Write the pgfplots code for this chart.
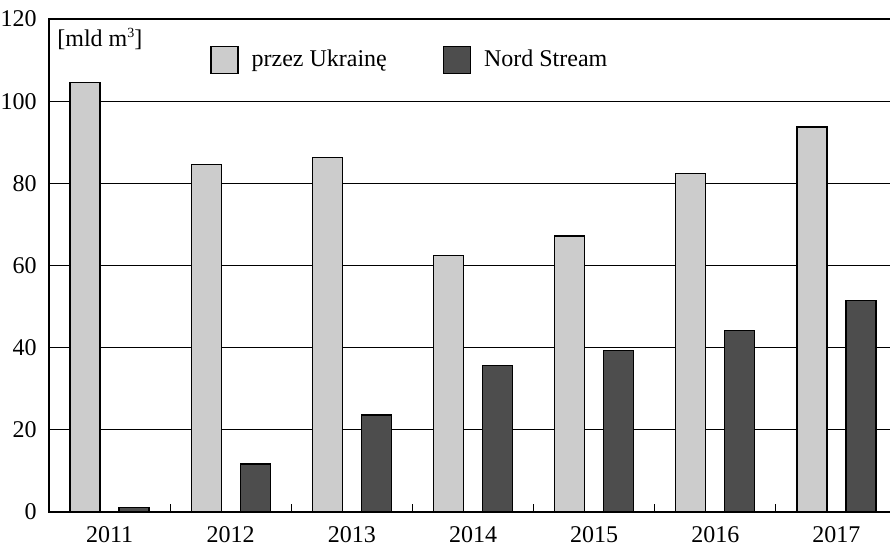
\documentclass[border=0pt]{standalone}
\usepackage{fontspec}
\setmainfont{Liberation Serif}
\usepackage{pgfplots}
\pgfplotsset{compat=1.18}
\definecolor{lightbar}{HTML}{CCCCCC}
\definecolor{darkbar}{HTML}{4D4D4D}
\begin{document}
\fontsize{12}{14}\selectfont
\begin{tikzpicture}
\begin{axis}[
  scale only axis, width=424pt, height=246.5pt,
  xmin=-0.5, xmax=6.5, ymin=0, ymax=120,
  xtick={0,1,2,3,4,5,6},
  xticklabels={2011,2012,2013,2014,2015,2016,2017},
  ytick={0,20,40,60,80,100,120},
  ymajorgrids, major grid style={black, line width=0.5pt},
  major tick length=0pt,
  xtick pos=left, ytick pos=left,
  axis line style={line width=0.7pt},
  ybar, bar width=15pt,
  /pgf/number format/assume math mode=true,
  tick label style={font=\fontsize{12}{14}\selectfont},
  yticklabel style={xshift=-2pt},
  xticklabel style={yshift=-3pt},
  legend columns=2,
  legend style={draw=none, fill=none, at={(rel axis cs:0.1899,0.9168)}, anchor=west, inner sep=0pt,
    font=\fontsize{12}{14}\selectfont,
    /tikz/every even column/.append style={column sep=26pt},
    /tikz/every odd column/.append style={column sep=4.5pt}},
  legend image code/.code={\draw[#1, draw=black, line width=0.6pt] (0pt,-6.75pt) rectangle (13.5pt,6.75pt);},
]
\addplot[fill=lightbar, draw=black, line width=0.6pt, bar shift=-12.25pt] coordinates {
  (0,104.6) (1,84.5) (2,86.3) (3,62.5) (4,67.2) (5,82.4) (6,93.7)};
\addlegendentry{przez Ukrainę}
\addplot[fill=darkbar, draw=black, line width=0.6pt, bar shift=12.25pt] coordinates {
  (0,1.05) (1,11.7) (2,23.6) (3,35.7) (4,39.4) (5,44.1) (6,51.4)};
\addlegendentry{Nord Stream}
\addplot[ycomb, black, line width=0.6pt, mark=none, forget plot] coordinates {
  (0.5,1.95) (1.5,1.95) (2.5,1.95) (3.5,1.95) (4.5,1.95) (5.5,1.95)};
\node[anchor=north west, inner sep=0pt] at ([shift={(4pt,-4.5pt)}]rel axis cs:0,1) {[mld m\raisebox{4.2pt}{\fontsize{7}{8}\selectfont 3}]};
\coordinate (bl) at (rel axis cs:0,0);
\coordinate (tr) at (rel axis cs:1,1);
\end{axis}
\pgfresetboundingbox
\path[use as bounding box] ([shift={(-24.5pt,-16.5pt)}]bl) rectangle ([shift={(-3.5pt,9.5pt)}]tr);
\end{tikzpicture}
\end{document}
